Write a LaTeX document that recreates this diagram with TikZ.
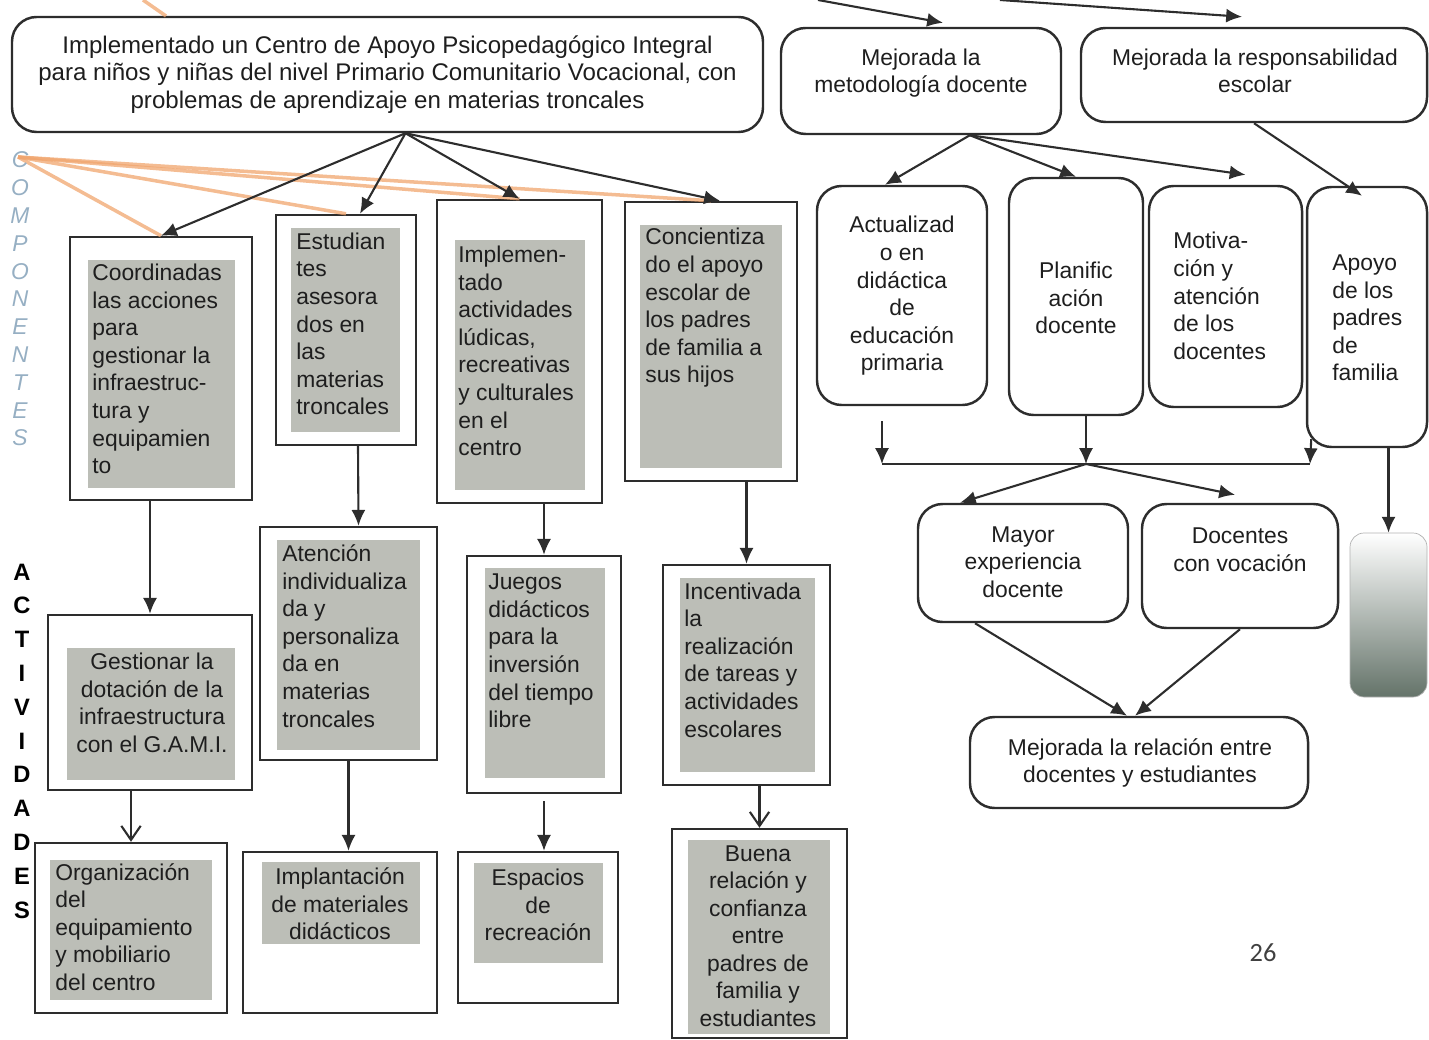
\documentclass[tikz,border=0pt]{standalone}
\usepackage{fontspec}
\setmainfont{Liberation Sans}
\newfontfamily\pagefont{Carlito}
\usepackage{tikz}
\usetikzlibrary{arrows.meta}
\usetikzlibrary{fit}
\usetikzlibrary{calc}

\definecolor{linegray}{RGB}{45,45,45}
\definecolor{textgray}{RGB}{30,30,30}
\definecolor{boxgray}{RGB}{188,190,183}
\definecolor{fanorange}{RGB}{240,165,110}
\definecolor{compblue}{RGB}{150,175,195}
\definecolor{shadegreen}{RGB}{100,115,105}

\begin{document}
\begin{tikzpicture}[x=0.02cm, y=-0.02cm,
    rbox/.style={draw=linegray, line width=1.4pt, rounded corners=14pt, inner sep=0pt},
    sbox/.style={draw=linegray, line width=1.4pt, inner sep=0pt},
    gbox/.style={fill=boxgray, inner sep=0pt},
    txt/.style={align=left, inner sep=0pt, text=textgray, font=\fontsize{13}{15.7}\selectfont},
    ctxt/.style={txt, align=center},
    arr/.style={draw=linegray, line width=1.2pt, -{Latex[length=9pt,width=8pt]}},
    varr/.style={draw=linegray, line width=1.2pt, -{Straight Barb[length=8pt,width=11pt]}},
    fanline/.style={draw=fanorange, line width=2pt, opacity=0.75},
    comp/.style={inner sep=0pt, text=compblue, font=\itshape\fontsize{13}{13}\selectfont},
    actl/.style={inner sep=0pt, text=black, font=\bfseries\fontsize{13.5}{13.5}\selectfont}]
    \useasboundingbox (0,0) rectangle (1429,1040);
    % results
    \node[rbox, fit={(12,17) (763,132)}] (main) {};
    \node[ctxt, font=\fontsize{13.7}{15.7}\selectfont] (maint) at (main.center) {Implementado un Centro de Apoyo Psicopedagógico Integral\\para niños y niñas del nivel Primario Comunitario Vocacional, con\\problemas de aprendizaje en materias troncales};
    \node[rbox, fit={(781,28) (1061,134)}] (met) {};
    \node[ctxt] (mett) at (921,73) {Mejorada la\\metodología docente};
    \node[rbox, fit={(1081,28) (1427,122)}] (resp) {};
    \node[ctxt] (respt) at (1255,71) {Mejorada la responsabilidad\\escolar};
    % components
    \node[sbox, fit={(70,237) (252,500)}] (coord) {};
    \node[gbox, fit={(88,260) (235,488)}] (coordg) {};
    \node[txt, anchor=west] (coordt) at (92,369) {Coordinadas\\las acciones\\para\\gestionar la\\infraestruc-\\tura y\\equipamien\\to};
    \node[sbox, fit={(276,215) (416,445)}] (estu) {};
    \node[gbox, fit={(291,228) (400,432)}] (estug) {};
    \node[txt, anchor=west] (estut) at (296,324) {Estudian\\tes\\asesora\\dos en\\las\\materias\\troncales};
    \node[sbox, fit={(437,200) (602,503)}] (impl) {};
    \node[gbox, fit={(455,240) (585,490)}] (implg) {};
    \node[txt, anchor=west] (implt) at (458,351) {Implemen-\\tado\\actividades\\lúdicas,\\recreativas\\y culturales\\en el\\centro};
    \node[sbox, fit={(625,202) (797,481)}] (conc) {};
    \node[gbox, fit={(640,225) (782,468)}] (concg) {};
    \node[txt, anchor=west] (conct) at (645,308) {Concientiza\\do el apoyo\\escolar de\\los padres\\de familia a\\sus hijos};
    % teacher side
    \node[rbox, fit={(817,186) (987,405)}] (actu) {};
    \node[ctxt] (actut) at (902,296) {Actualizad\\o en\\didáctica\\de\\educación\\primaria};
    \node[rbox, fit={(1009,178) (1143,415)}] (plan) {};
    \node[ctxt] (plant) at (1076,298) {Planific\\ación\\docente};
    \node[rbox, fit={(1149,186) (1302,407)}] (moti) {};
    \node[txt, anchor=west] (motit) at (1173,296) {Motiva-\\ción y\\atención\\de los\\docentes};
    \node[rbox, fit={(1307,187) (1427,447)}] (apoy) {};
    \node[txt, anchor=west] (apoyt) at (1332,318) {Apoyo\\de los\\padres\\de\\familia};
    \node[fit={(1350,533) (1427,697)}, inner sep=0pt, rounded corners=8pt, draw=gray!60,
        top color=white, middle color=gray!30, bottom color=shadegreen] (grad) {};
    \node[rbox, fit={(918,504) (1128,622)}] (mayor) {};
    \node[ctxt] (mayort) at (1023,562) {Mayor\\experiencia\\docente};
    \node[rbox, fit={(1142,504) (1338,628)}] (doce) {};
    \node[ctxt] (docet) at (1240,550) {Docentes\\con vocación};
    \node[rbox, fit={(970,717) (1308,808)}] (rel) {};
    \node[ctxt] (relt) at (1140,763) {Mejorada la relación entre\\docentes y estudiantes};
    % activities
    \node[sbox, fit={(48,615) (252,790)}] (gest) {};
    \node[gbox, fit={(67,648) (235,780)}] (gestg) {};
    \node[ctxt] (gestt) at (152,703) {Gestionar la\\dotación de la\\infraestructura\\con el G.A.M.I.};
    \node[sbox, fit={(260,527) (437,760)}] (aten) {};
    \node[gbox, fit={(277,540) (420,750)}] (ateng) {};
    \node[txt, anchor=west] (atent) at (282,636) {Atención\\individualiza\\da y\\personaliza\\da en\\materias\\troncales};
    \node[sbox, fit={(467,556) (621,793)}] (jueg) {};
    \node[gbox, fit={(485,568) (605,778)}] (juegg) {};
    \node[txt, anchor=west] (juegt) at (488,651) {Juegos\\didácticos\\para la\\inversión\\del tiempo\\libre};
    \node[sbox, fit={(663,565) (830,785)}] (ince) {};
    \node[gbox, fit={(680,578) (815,772)}] (inceg) {};
    \node[txt, anchor=west] (incet) at (684,660) {Incentivada\\la\\realización\\de tareas y\\actividades\\escolares};
    \node[sbox, fit={(35,843) (227,1013)}] (orga) {};
    \node[gbox, fit={(50,860) (212,1000)}] (orgag) {};
    \node[txt, anchor=west] (orgat) at (55,927) {Organización\\del\\equipamiento\\y mobiliario\\del centro};
    \node[sbox, fit={(243,852) (437,1013)}] (impla) {};
    \node[gbox, fit={(262,862) (420,944)}] (implag) {};
    \node[ctxt] (implat) at (340,904) {Implantación\\de materiales\\didácticos};
    \node[sbox, fit={(458,852) (618,1003)}] (espa) {};
    \node[gbox, fit={(474,863) (603,963)}] (espag) {};
    \node[ctxt] (espat) at (538,905) {Espacios\\de\\recreación};
    \node[sbox, fit={(672,829) (847,1038)}] (buena) {};
    \node[gbox, fit={(688,840) (830,1034)}] (buenag) {};
    \node[ctxt] (buenat) at (758,936) {Buena\\relación y\\confianza\\entre\\padres  de\\familia y\\estudiantes};
    % orange fan
    \coordinate (fan) at (18,157);
    \coordinate (o1) at (143,0);
    \coordinate (o2) at (166,16);
    \draw[fanline] (fan) -- (coord.north);
    \draw[fanline] (fan) -- (estu.north);
    \draw[fanline] (fan) -- (impl.north);
    \draw[fanline] (fan) -- (conc.north);
    \draw[fanline] (o1) -- (o2);
    % arrows from the top
    \coordinate (in1) at (818,0);
    \coordinate (in2) at (1000,0);
    \draw[arr] (in1) -- ($(met.north)+(22,-4)$);
    \draw[arr] (in2) -- ($(resp.north)+(-12,-10)$);
    \draw[arr] (main.-73) -- (coord.north);
    \draw[arr] (main.-73) -- ($(estu.north)+(14,0)$);
    \draw[arr] (main.-73) -- (impl.north);
    \draw[arr] (main.-73) -- ($(conc.north)+(9,0)$);
    \draw[arr] (met.-48) -- ($(actu.north)+(-17,0)$);
    \draw[arr] (met.-48) -- (plan.north);
    \draw[arr] (met.-48) -- ($(moti.north)+(20,-10)$);
    \draw[arr] (resp.south) -- ($(apoy.north)+(-5,10)$);
    % joining line
    \coordinate (jl) at (882,464);
    \coordinate (jm) at (1086,464);
    \coordinate (jr) at (1310,464);
    \draw[arr] ($(actu.south)+(-20,15)$) -- (jl);
    \draw[arr] ($(plan.south)+(10,0)$) -- (jm);
    \draw[arr] ($(moti.south east)+(8,31)$) -- (jr);
    \draw[draw=linegray, line width=1.2pt] (jl) -- (jr);
    \draw[arr] (jm) -- ($(mayor.north)+(-63,0)$);
    \draw[arr] (jm) -- ($(doce.north)+(-5,-8)$);
    \draw[arr] ($(mayor.south)+(-48,0)$) -- ($(rel.north)+(-12,0)$);
    \draw[arr] (doce.south) -- ($(rel.north)+(-4,0)$);
    \draw[arr] (grad.north |- apoy.south) -- (grad.north);
    % down the columns
    \draw[arr] (gest.north |- coord.south) -- (gest.north);
    \draw[arr] ($(estu.south)+(12,0)$) -- ($(aten.north)+(10,0)$);
    \draw[arr] (jueg.north |- impl.south) -- (jueg.north);
    \draw[arr] (ince.north |- conc.south) -- (ince.north);
    \draw[varr] (orga.north |- gest.south) -- (orga.north);
    \draw[arr] (aten.south) -- (aten.south |- impla.north);
    \draw[arr] ($(jueg.south)+(0,7)$) -- (jueg.south |- espa.north);
    \draw[varr] (buena.north |- ince.south) -- (buena.north);
    % side labels
    \foreach \l [count=\i] in {C,O,M,P,O,N,E,N,T,E,S}
        \node[comp] (comp\i) at (20,{160+27.8*(\i-1)}) {\l};
    \foreach \l [count=\i] in {A,C,T,I,V,I,D,A,D,E,S}
        \node[actl] (act\i) at (22,{572+33.8*(\i-1)}) {\l};
    \node[inner sep=0pt, text=black!75, font=\pagefont\fontsize{15}{18}\selectfont] (pagenum) at (1263,953) {26};
\end{tikzpicture}
\end{document}
